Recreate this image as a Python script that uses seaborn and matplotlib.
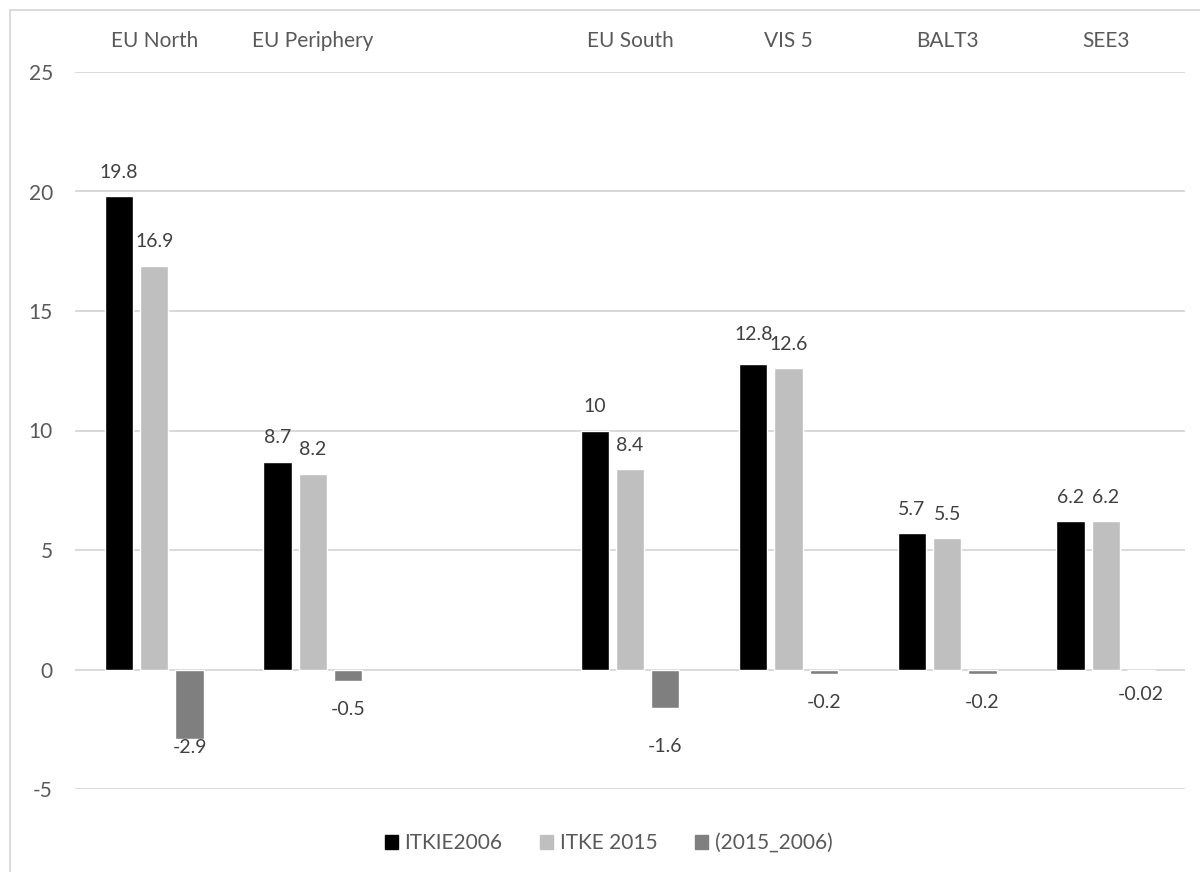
import matplotlib
matplotlib.use("Agg")
import matplotlib.pyplot as plt
from matplotlib.patches import Rectangle
import pandas as pd
import seaborn as sns

# --- data (blank slot between EU Periphery and EU South is an empty category) ---
REGIONS = ["EU North", "EU Periphery", " ", "EU South", "VIS 5", "BALT3", "SEE3"]
SERIES = ["ITKIE2006", "ITKE 2015", "(2015_2006)"]
ITKIE2006 = [19.8, 8.7, None, 10, 12.8, 5.7, 6.2]
ITKE2015 = [16.9, 8.2, None, 8.4, 12.6, 5.5, 6.2]
DIFF = [-2.9, -0.5, None, -1.6, -0.2, -0.2, -0.02]
Y_TICKS = [-5, 0, 5, 10, 15, 20, 25]

COLORS = ["#000000", "#bfbfbf", "#7f7f7f"]
TEXT = "#595959"
LABEL = "#404040"
GRID = "#d9d9d9"
FS = 15
LABEL_FS = 14

# label offsets (points) that differ from the default in the original
NUDGE = {
    ("ITKIE2006", "VIS 5"): 21,
    ("(2015_2006)", "EU North"): -6,
    ("(2015_2006)", "EU South"): -28,
    ("(2015_2006)", "SEE3"): -18,
}

rows = []
for name, vals in zip(SERIES, [ITKIE2006, ITKE2015, DIFF]):
    for region, v in zip(REGIONS, vals):
        if v is not None:
            rows.append({"Region": region, "Series": name, "Value": v})
df = pd.DataFrame(rows)

sns.set_style("white")
plt.rcParams["font.family"] = ["Lato", "DejaVu Sans"]
plt.rcParams["axes.unicode_minus"] = False

fig = plt.figure(figsize=(12, 8.72), dpi=100)
ax = fig.add_axes([75 / 1200, 1 - 789 / 872, 1110 / 1200, 717 / 872])

sns.barplot(
    data=df, x="Region", y="Value", hue="Series",
    order=REGIONS, hue_order=SERIES, palette=COLORS,
    width=0.667, gap=0.2, saturation=1, ax=ax, legend=False,
)

ax.set_ylim(-5, 25)
ax.set_yticks(Y_TICKS)
ax.set_xlim(-0.5, len(REGIONS) - 0.5)
ax.yaxis.grid(True, color=GRID, linewidth=1.4)
ax.set_axisbelow(True)
for s in ax.spines.values():
    s.set_visible(False)
ax.set_xlabel("")
ax.set_ylabel("")
ax.xaxis.tick_top()
ax.tick_params(axis="x", length=0, pad=15, labelsize=FS, labelcolor=TEXT)
ax.tick_params(axis="y", length=0, pad=16, labelsize=FS, labelcolor=TEXT)

# data labels
for container, name in zip(ax.containers, SERIES):
    present = df[df["Series"] == name]["Region"].tolist()
    for bar, region in zip(container, present):
        h = bar.get_height()
        x = bar.get_x() + bar.get_width() / 2
        off = NUDGE.get((name, region), 17 if h >= 0 else -20)
        ax.annotate(f"{h:g}", (x, h), xytext=(0, off), textcoords="offset points",
                    ha="center", va="center", fontsize=LABEL_FS, color=LABEL)

handles = [Rectangle((0, 0), 1, 1, color=c) for c in COLORS]
fig.legend(handles, SERIES, loc="center", bbox_to_anchor=(0.507, 1 - 843 / 872),
           ncol=3, frameon=False, fontsize=FS, handlelength=0.65, handleheight=0.65,
           handletextpad=0.3, columnspacing=1.8, labelcolor=TEXT)

# chart frame (cropped at right and bottom like the original)
fig.patches.append(Rectangle((10 / 1200, -0.1), 1.2, 1.1 - 10 / 872,
                             transform=fig.transFigure, fill=False,
                             edgecolor=GRID, linewidth=1.4))

fig.savefig("out.png", dpi=100)
